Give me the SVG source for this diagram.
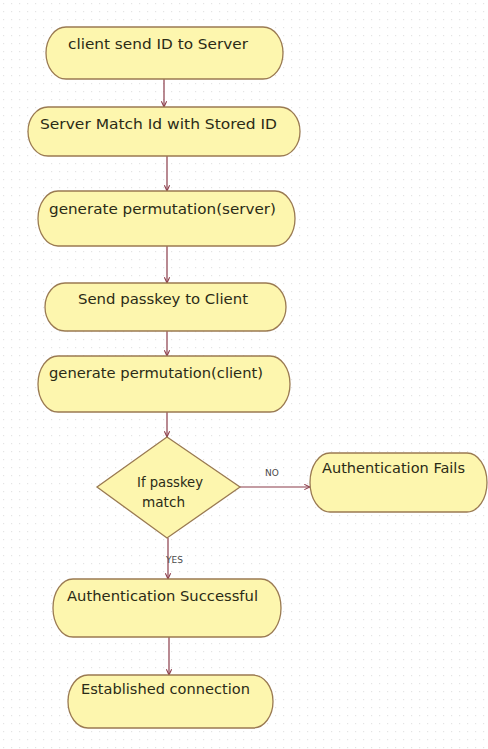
<svg xmlns="http://www.w3.org/2000/svg" width="488" height="749" viewBox="0 0 488 749">
  <defs>
    <pattern id="dots" width="8" height="8" patternUnits="userSpaceOnUse">
      <rect x="3" y="3" width="1.2" height="1.2" fill="#e4e4e4"/>
    </pattern>
    <marker id="arrow" viewBox="0 0 8 8" refX="7.5" refY="4" markerWidth="7" markerHeight="7" markerUnits="userSpaceOnUse" orient="auto">
      <path d="M1,1 L7.5,4 L1,7" fill="none" stroke="#8a3b48" stroke-width="1.2"/>
    </marker>
    <style>
      .node { fill: #fdf6ae; stroke: #9a7a52; stroke-width: 1.3; }
      .label { font-family: "DejaVu Sans", "Liberation Sans", sans-serif; font-size: 13.5px; fill: #2b2b16; }
      .small { font-family: "DejaVu Sans", "Liberation Sans", sans-serif; font-size: 9px; fill: #4a4a4a; }
      .edge { fill: none; stroke: #8a3b48; stroke-width: 1.2; marker-end: url(#arrow); }
    </style>
  </defs>

  <rect width="488" height="749" fill="#ffffff"/>
  <rect width="488" height="749" fill="url(#dots)"/>

  <g id="connectors">
    <line class="edge" x1="164" y1="79" x2="164" y2="107"/>
    <line class="edge" x1="167" y1="156" x2="167" y2="191"/>
    <line class="edge" x1="167" y1="246" x2="167" y2="283"/>
    <line class="edge" x1="167" y1="331" x2="167" y2="356"/>
    <line class="edge" x1="167" y1="412" x2="167" y2="437"/>
    <line class="edge" x1="240" y1="487" x2="310" y2="487"/>
    <line class="edge" x1="168" y1="538" x2="168" y2="579"/>
    <line class="edge" x1="169" y1="637" x2="169" y2="675"/>
    <text class="small" x="265" y="476">NO</text>
    <text class="small" x="166" y="563" font-size="10">YES</text>
  </g>

  <g id="n1">
    <rect class="node" x="46" y="27" width="237" height="52" rx="20" ry="26"/>
    <text class="label" x="68" y="49" textLength="180" lengthAdjust="spacingAndGlyphs">client send ID to Server</text>
  </g>
  <g id="n2">
    <rect class="node" x="28" y="107" width="272" height="49" rx="20" ry="24.5"/>
    <text class="label" x="40" y="129" textLength="237" lengthAdjust="spacingAndGlyphs">Server Match Id with Stored ID</text>
  </g>
  <g id="n3">
    <rect class="node" x="38" y="191" width="257" height="55" rx="20" ry="27.5"/>
    <text class="label" x="49" y="214" textLength="227" lengthAdjust="spacingAndGlyphs">generate permutation(server)</text>
  </g>
  <g id="n4">
    <rect class="node" x="45" y="283" width="241" height="48" rx="20" ry="24"/>
    <text class="label" x="78" y="304" textLength="170" lengthAdjust="spacingAndGlyphs">Send passkey to Client</text>
  </g>
  <g id="n5">
    <rect class="node" x="38" y="356" width="252" height="56" rx="20" ry="28"/>
    <text class="label" x="49" y="378" textLength="214" lengthAdjust="spacingAndGlyphs">generate permutation(client)</text>
  </g>
  <g id="decision">
    <polygon class="node" points="167,437 240,487 167,538 97,487"/>
    <text class="label" x="137" y="487" textLength="66" lengthAdjust="spacingAndGlyphs">If passkey</text>
    <text class="label" x="142" y="507" textLength="43" lengthAdjust="spacingAndGlyphs">match</text>
  </g>
  <g id="fail">
    <rect class="node" x="310" y="453" width="177" height="59" rx="20" ry="29.5"/>
    <text class="label" x="322" y="473" textLength="143" lengthAdjust="spacingAndGlyphs">Authentication Fails</text>
  </g>
  <g id="success">
    <rect class="node" x="53" y="579" width="228" height="58" rx="20" ry="29"/>
    <text class="label" x="67" y="601" textLength="191" lengthAdjust="spacingAndGlyphs">Authentication Successful</text>
  </g>
  <g id="established">
    <rect class="node" x="68" y="675" width="205" height="53" rx="20" ry="26.5"/>
    <text class="label" x="81" y="694" textLength="169" lengthAdjust="spacingAndGlyphs">Established connection</text>
  </g>
</svg>
